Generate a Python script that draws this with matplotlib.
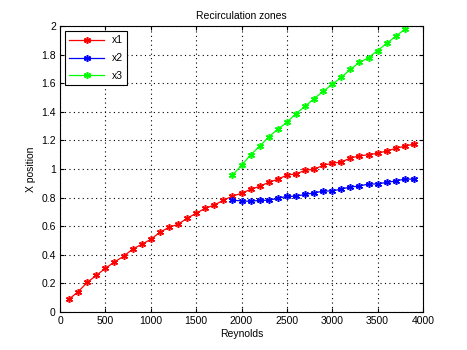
import matplotlib
matplotlib.use("Agg")
import matplotlib.pyplot as plt

plt.rcParams["font.family"] = ["Liberation Sans", "DejaVu Sans"]

# Reattachment positions vs Reynolds number
re_x1 = [100, 200, 300, 400, 500, 600, 700, 800, 900, 1000,
         1100, 1200, 1300, 1400, 1500, 1600, 1700, 1800, 1900, 2000,
         2100, 2200, 2300, 2400, 2500, 2600, 2700, 2800, 2900, 3000,
         3100, 3200, 3300, 3400, 3500, 3600, 3700, 3800, 3900]
x1 = [0.09, 0.142, 0.207, 0.256, 0.305, 0.35, 0.389, 0.44, 0.473, 0.508,
      0.557, 0.592, 0.613, 0.655, 0.69, 0.725, 0.748, 0.781, 0.81, 0.83,
      0.858, 0.879, 0.907, 0.928, 0.958, 0.965, 0.991, 0.998, 1.026, 1.04,
      1.049, 1.077, 1.091, 1.10, 1.11, 1.126, 1.145, 1.159, 1.175]

re_x2 = [1900, 2000, 2100, 2200, 2300, 2400, 2500, 2600, 2700, 2800,
         2900, 3000, 3100, 3200, 3300, 3400, 3500, 3600, 3700, 3800, 3900]
x2 = [0.783, 0.776, 0.774, 0.781, 0.781, 0.795, 0.809, 0.809, 0.823, 0.832,
      0.846, 0.846, 0.86, 0.874, 0.881, 0.895, 0.895, 0.907, 0.916, 0.93, 0.928]

re_x3 = [1900, 2000, 2100, 2200, 2300, 2400, 2500, 2600, 2700, 2800,
         2900, 3000, 3100, 3200, 3300, 3400, 3500, 3600, 3700, 3800]
x3 = [0.956, 1.026, 1.098, 1.159, 1.224, 1.278, 1.326, 1.387, 1.438, 1.492,
      1.543, 1.592, 1.641, 1.697, 1.746, 1.779, 1.828, 1.879, 1.928, 1.977]

fig = plt.figure(figsize=(4.67, 3.5), dpi=100)
ax = fig.add_axes([60 / 467, 38 / 350, 363 / 467, 286 / 350])

# six-armed asterisk, drawn as strokes only
asterisk = (6, 2, 0)
style = dict(marker=asterisk, markersize=5, markeredgewidth=1.1, linewidth=0.9)
ax.plot(re_x1, x1, color="#FF0000", label="x1", **style)
ax.plot(re_x2, x2, color="#0000FF", label="x2", **style)
ax.plot(re_x3, x3, color="#00FF00", label="x3", **style)

ax.set_xlim(0, 4000)
ax.set_ylim(0, 2)
ax.set_xticks(range(0, 4001, 500))
ax.set_yticks([0, 0.2, 0.4, 0.6, 0.8, 1, 1.2, 1.4, 1.6, 1.8, 2])
ax.set_yticklabels(["0", "0.2", "0.4", "0.6", "0.8", "1", "1.2", "1.4", "1.6", "1.8", "2"])
ax.grid(True, color="black", linestyle=(0, (1, 3)), linewidth=0.8)
ax.tick_params(direction="in", length=3, labelsize=7.5, top=True, right=True, pad=3)
for s in ax.spines.values():
    s.set_linewidth(0.8)

ax.set_title("Recirculation zones", fontsize=7.5, pad=5)
ax.set_xlabel("Reynolds", fontsize=7.5, labelpad=2)
ax.set_ylabel("X position", fontsize=7.5, labelpad=4)

leg = ax.legend(loc="upper left", fontsize=7.5, fancybox=False, edgecolor="black",
                framealpha=1, handlelength=3.3, borderaxespad=0.5, labelspacing=0.75)
leg.get_frame().set_linewidth(0.8)

fig.savefig("out.png", dpi=100)
